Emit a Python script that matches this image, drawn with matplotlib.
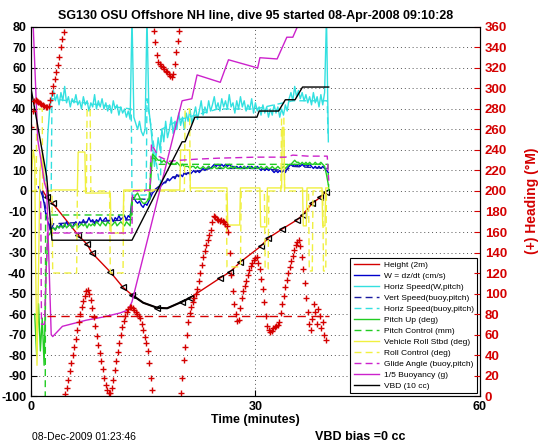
import numpy as np
import matplotlib
matplotlib.use('Agg')
import matplotlib.pyplot as plt

plt.rcParams['font.family'] = ['Liberation Sans', 'DejaVu Sans']
plt.rcParams['axes.unicode_minus'] = False

# ---- data (time in minutes) ----
height_t = [1.6, 2.1, 2.9, 6.3, 7.5, 8.1, 10.6, 12.3, 13.5, 15.0, 16.9, 18.2, 20.2, 21.3,
            25.3, 26.6, 28.0, 30.7, 31.7, 33.6, 35.6, 36.3, 37.6, 38.7, 39.4]
height_y = [0, -3, -6, -21.5, -26, -30, -39.5, -47, -50.7, -54.5, -57, -57.2, -54, -52,
            -42.4, -39.5, -34.6, -27, -23, -18.5, -14, -11.7, -6, -3, -0.5]
tri_t = [2.1, 2.9, 6.3, 7.5, 8.1, 10.6, 12.3, 13.5, 16.9, 20.2, 21.3, 25.3, 26.6, 28.0,
         30.7, 31.7, 33.6, 35.6, 36.3, 37.6, 38.7, 39.4]
tri_y = [-3, -6, -21.5, -26, -30, -39.5, -47, -50.7, -57, -54, -52, -42.4, -39.5, -34.6,
         -27, -23, -18.5, -14, -11.7, -6, -3, -0.5]
bottom_t = [13.5, 15.0, 16.9, 18.2, 20.2, 21.3]
bottom_y = [-50.7, -54.5, -57, -57.2, -54, -52]

# W = dz/dt, sampled every 0.25 min from t = 1.0
w_vals = [2, 0, -2, -6, -12, -15, -17, -19, -18, -19, -17, -18, -16, -18, -17, -15,
          -17, -16, -18, -16, -15, -17, -15, -16, -14, -16, -15, -13, -15, -14, -16, -14,
          -15, -13, -15, -14, -13, -15, -14, -13, -15, -13, -14, -12, -14, -13, -12, -14,
          -12, -13, -4, -3, -5, -6, -5, -7, -8, -6, -7, -5, -3, -1, 0, 1,
          0, 2, 3, 4, 4, 6, 5, 6, 7, 6, 8, 7, 8, 7, 9, 8,
          9, 8, 9, 10, 9, 10, 9, 10, 11, 10, 11, 12, 11, 12, 13, 12,
          13, 12, 13, 12, 13, 12, 13, 12, 12, 11, 12, 11, 12, 11, 12, 11,
          12, 11, 12, 11, 11, 12, 11, 10, 11, 10, 11, 10, 11, 10, 9, 10,
          9, 10, 9, 10, 9, 11, 12, 13, 12, 13, 12, 13, 12, 13, 12, 13,
          12, 13, 12, 11, 12, 11, 12, 11, 12, 11, 10, 9]

# Horizontal speed (W, pitch), every 0.25 min from t = 2.0
hspd_vals = [5, 28, 40, 46, 49, 44, 47, 42, 48, 44, 51, 43, 46, 41, 45, 43,
             47, 42, 44, 40, 46, 42, 44, 39, 43, 41, 47, 40, 44, 41, 45, 40,
             43, 39, 42, 38, 44, 40, 42, 37, 41, 38, 40, 36, 39, 35, 85, 36,
             33, 30, 34, 29, 27, 30, 85, 40, 32, 22, 12, 18, 26, 20, 30, 24,
             34, 26, 30, 36, 28, 34, 30, 38, 32, 36, 30, 38, 34, 40, 33, 37,
             41, 35, 39, 44, 37, 41, 38, 44, 39, 42, 46, 40, 43, 39, 45, 41,
             44, 40, 47, 41, 43, 38, 44, 40, 46, 41, 44, 39, 42, 40, 45, 38,
             43, 39, 41, 37, 42, 38, 41, 36, 40, 37, 42, 38, 41, 36, 40, 37,
             42, 39, 45, 48, 44, 51, 46, 49, 45, 48, 44, 47, 43, 46, 42, 48,
             43, 46, 41, 47, 42, 48, 85, 24]

vspd_b_t = [1.5, 2.6, 3.0, 13.4, 13.5, 15.8, 16.0, 17.0, 18.5, 20.0, 24.0, 30.0, 34.0, 35.0, 39.7]
vspd_b_y = [0, -20, -16, -14, -4, -4, -1, 2, 6, 8, 11, 11, 10, 12, 11]

hspd_b_t = [2.7, 2.8, 13.4, 13.5, 15.4, 15.5, 17.3, 17.4, 20.0, 25.0, 30.0, 35.0, 39.6, 39.7]
hspd_b_y = [0, 45, 40, -2, -2, 45, 0, 30, 35, 40, 40, 44, 44, 28]

# Pitch up, every 0.25 min from t = 0.5
pitch_vals = [-60, -80, -55, -78, -62, -85, -40, -22, -21, -19,
              -18, -19, -17, -18, -17, -18, -16, -18, -17, -16, -18, -17,
              -16, -18, -17, -16, -17, -16, -18, -16, -17, -16, -17, -15,
              -16, -17, -15, -16, -17, -15, -16, -17, -16, -15, -17, -16,
              -15, -16, -17, -15, -16, -17, -3, -4, -2, -1, -3, -5,
              -6, -6, -5, -4, 5, 18, 17, 16, 15, 15, 14, 15,
              14, 14, 13, 14, 13, 13, 14, 13, 12, 13, 12, 12,
              12, 11, 12, 12, 11, 12, 11, 11, 12, 11, 11, 12,
              11, 11, 12, 11, 11, 12, 11, 11, 12, 11, 11, 12,
              11, 12, 11, 11, 11, 11, 12, 11, 11, 12, 11, 11,
              12, 11, 11, 12, 11, 11, 12, 11, 11, 12, 11, 11,
              12, 11, 11, 12, 11, 12, 13, 13, 14, 15, 14, 14,
              13, 14, 13, 14, 13, 14, 13, 13, 14, 13, 13, 14,
              13, 12, 8, 3]

pctl_t = [0.0, 1.9, 1.95, 13.5, 13.55, 15.9, 16.0, 16.5, 17.0, 39.7, 39.8]
pctl_y = [-105, -105, -11.7, -11.7, -4, -4, 16, 16, 13, 13, 0]

roll_t = [0.0, 0.3, 0.5, 0.6, 0.8, 1.0, 1.2, 1.5, 1.8, 2.2, 2.9, 6.2, 6.3, 7.2, 7.3, 10.6,
          10.7, 12.3, 12.4, 19.9, 20.0, 21.2, 21.3, 26.2, 26.3, 27.9, 28.0, 30.6, 30.7,
          31.5, 31.6, 33.5, 33.6, 33.8, 33.9, 36.3, 36.4, 36.8, 36.9, 38.9, 39.0, 39.3,
          39.4, 39.7]
roll_y = [5, 20, 15, -30, -85, -40, 10, 18, 5, 0, 0.5, 0.5, 19, 19, -1, -1,
          -20.5, -20.5, 0.5, 0.5, 20, 20, 1.5, 1.5, -16.6, -16.6, 1.5, 1.5, -17.5,
          -17.5, 1.5, 1.5, 31, 31, 1.5, 1.5, -17, -17, 1.5, 1.5, -17, -17,
          1.5, 1.5]

rctl_t = [0.0, 0.7, 0.75, 1.5, 1.55, 2.8, 2.9, 6.1, 6.2, 7.4, 7.5, 7.9, 8.0, 10.5, 10.6,
          12.3, 12.4, 20.5, 20.6, 21.2, 21.3, 26.1, 26.2, 28.0, 28.1, 31.2, 31.3, 31.7,
          31.8, 33.4, 33.5, 33.8, 33.9, 37.1, 37.2, 37.6, 37.7, 39.0, 39.1, 39.4, 39.5]
rctl_y = [0, 0, 40, 40, 0, 0, -40, -40, 0, 0, 40, 40, 0, 0, -40,
          -40, 0, 0, 40, 40, 0, 0, -37, -37, 0, 0, -38, -38,
          0, 0, 36, 36, 0, 0, -39, -39, 0, 0, -39, -39, 0]

glide_t = [1.3, 1.4, 1.8, 2.2, 13.5, 13.55, 15.9, 16.1, 17.0, 18.5, 20.0, 22.0, 25.0,
           30.0, 34.0, 35.0, 37.0, 39.6, 39.8]
glide_y = [-5, -65, -65, -20.5, -20.5, 0, 0.5, 23, 17, 14.5, 15, 15.5, 16,
           16.5, 16.5, 17.5, 17, 17, 5]

buoy_t = [0.0, 0.3, 0.9, 1.8, 2.1, 2.7, 2.9, 4.2, 7.4, 9.6, 11.9, 13.0, 13.5, 15.9,
          18.9, 20.2, 21.5, 22.2, 25.3, 26.4, 30.3, 30.6, 32.9, 34.2, 35.0, 35.6, 36.5, 39.8]
buoy_y = [95, 80, 25, 4, 0.5, -70, -71, -66, -63, -61.5, -59.5, -58, -54, -19,
          25, 44, 45, 56.6, 53, 64, 60, 65, 64.4, 75, 75, 80, 90, 100]

vbd_t = [0.0, 0.3, 2.1, 2.8, 13.5, 20.2, 20.6, 21.9, 30.2, 30.5, 33.1, 34.0, 35.3, 36.3, 39.8]
vbd_y = [50, 44, 7, -24, -24, 24, 24, 36, 36, 39, 39, 44.5, 44.5, 50.7, 50.7]

# heading (deg M), every 0.2 min from t = 0
heading_vals = [262, 278, 288, 289, 288, 287, 286, 285, 284, 283,
                282, 282, 283, 289, 296, 302, 309, 316, 323, 331,
                340, 348, 355, 2, 8, 16, 24, 32, 40, 48,
                56, 64, 72, 80, 87, 93, 98, 102, 103, 100,
                94, 86, 77, 68, 59, 50, 42, 34, 26, 18,
                11, 6, 3, 3, 8, 16, 25, 34, 43, 52,
                60, 67, 73, 78, 82, 85, 87, 87, 86, 84,
                82, 80, 78, 76, 70, 64, 58, 52, 44, 32,
                18, 6, 356, 345, 333, 326, 324, 322, 321, 319,
                317, 316, 314, 312, 311, 314, 324, 336, 346, 356,
                3, 18, 35, 48, 60, 72, 81, 87, 92, 96,
                100, 104, 112, 120, 128, 136, 141, 147, 152, 157,
                162, 170, 176, 175, 173, 172, 171, 172, 171, 170,
                168, 166, 160, 140, 118, 102, 90, 80, 73, 74,
                86, 96, 102, 107, 112, 118, 123, 127, 130, 133,
                135, 136, 130, 124, 114, 104, 92, 78, 68, 64,
                62, 63, 66, 67, 68, 69, 72, 81, 90, 98,
                106, 113, 120, 126, 132, 137, 142, 147, 150, 152,
                146, 136, 124, 110, 96, 82, 70, 64, 75, 90,
                82, 70, 85, 78, 66, 72, 60, 55]
heading_ref_t = [2.1, 39.8]
heading_ref = [78, 78]

w_t = 1.0 + 0.25 * np.arange(len(w_vals))
hspd_t = 2.0 + 0.25 * np.arange(len(hspd_vals))
pitch_t = 0.5 + 0.25 * np.arange(len(pitch_vals))
heading_t = 0.2 * np.arange(len(heading_vals))

# ---- figure ----
fig = plt.figure(figsize=(5.46, 4.42), dpi=100)
ax = fig.add_axes([0.0568, 0.104, 0.822, 0.835])

red = '#d40000'
ax.plot(height_t, height_y, color=red, lw=1, label='Height (2m)')
ax.plot(bottom_t, bottom_y, color='k', lw=1.5)
ax.plot(tri_t, tri_y, ls='none', marker='<', ms=5, mfc='none', mec='k', mew=0.9)
ax.plot(w_t, w_vals, color='#0000cc', lw=1, label='W = dz/dt (cm/s)')
ax.plot(hspd_t, hspd_vals, color='#33e0e0', lw=1, label='Horiz Speed(W,pitch)')
ax.plot(vspd_b_t, vspd_b_y, color='#1a1aa0', lw=1, ls=(0, (5, 3)), label='Vert Speed(buoy,pitch)')
ax.plot(hspd_b_t, hspd_b_y, color='#33e0e0', lw=1, ls=(0, (5, 3)), label='Horiz Speed(buoy,pitch)')
ax.plot(pitch_t, pitch_vals, color='#22cc22', lw=1, label='Pitch Up (deg)')
ax.plot(pctl_t, pctl_y, color='#22cc22', lw=1, ls=(0, (5, 3)), label='Pitch Control (mm)')
ax.plot(roll_t, roll_y, color='#f0f040', lw=1, label='Vehicle Roll Stbd (deg)')
ax.plot(rctl_t, rctl_y, color='#f0f040', lw=1, ls=(0, (5, 3)), label='Roll Control (deg)')
ax.plot(glide_t, glide_y, color='#cc22cc', lw=1, ls=(0, (5, 3)), label='Glide Angle (buoy,pitch)')
ax.plot(buoy_t, buoy_y, color='#cc22cc', lw=1, label='1/5 Buoyancy (g)')
ax.plot(vbd_t, vbd_y, color='k', lw=1, label='VBD (10 cc)')

ax.set_xlim(0, 60)
ax.set_ylim(-100, 80)
ax.set_xticks([0, 30, 60])
ax.set_yticks(np.arange(-100, 81, 10))
ax.grid(True, color='#555555', ls=(0, (1, 3)), lw=0.7)
ax.tick_params(direction='in', labelsize=9, length=4)
for lab in ax.get_xticklabels() + ax.get_yticklabels():
    lab.set_fontweight('bold')
ax.set_xlabel('Time (minutes)', fontsize=9, fontweight='bold', labelpad=1)
ax.set_title('SG130 OSU Offshore NH line, dive 95 started 08-Apr-2008 09:10:28',
             fontsize=9, fontweight='bold', pad=6)

ax2 = ax.twinx()
ax2.plot(heading_t, heading_vals, ls='none', marker='+', ms=4, mew=1, color=red)
ax2.plot(heading_ref_t, heading_ref, color=red, lw=1, ls=(0, (6, 4)))
ax2.set_ylim(0, 360)
ax2.set_yticks(np.arange(0, 361, 20))
ax2.tick_params(direction='in', labelsize=9.5, colors=red, length=4)
for lab in ax2.get_yticklabels():
    lab.set_fontweight('bold')
ax2.spines['right'].set_color('k')
ax2.set_ylabel('(+) Heading (\u00b0M)', color=red, fontsize=10, fontweight='bold')
ax2.yaxis.set_label_coords(1.10, 0.53)

leg = ax.legend(loc='lower right', fontsize=6, handlelength=3.0, labelspacing=0.38,
                borderpad=0.4, borderaxespad=0.35, fancybox=False, framealpha=1,
                edgecolor='k', handletextpad=0.6)
leg.get_frame().set_linewidth(0.8)
leg.set_zorder(5)

fig.text(32 / 546, 1 - 437 / 442, '08-Dec-2009 01:23:46', fontsize=7.5, va='center')
fig.text(315 / 546, 1 - 437 / 442, 'VBD bias =0 cc', fontsize=9, fontweight='bold', va='center')

fig.savefig('out.png', dpi=100)
